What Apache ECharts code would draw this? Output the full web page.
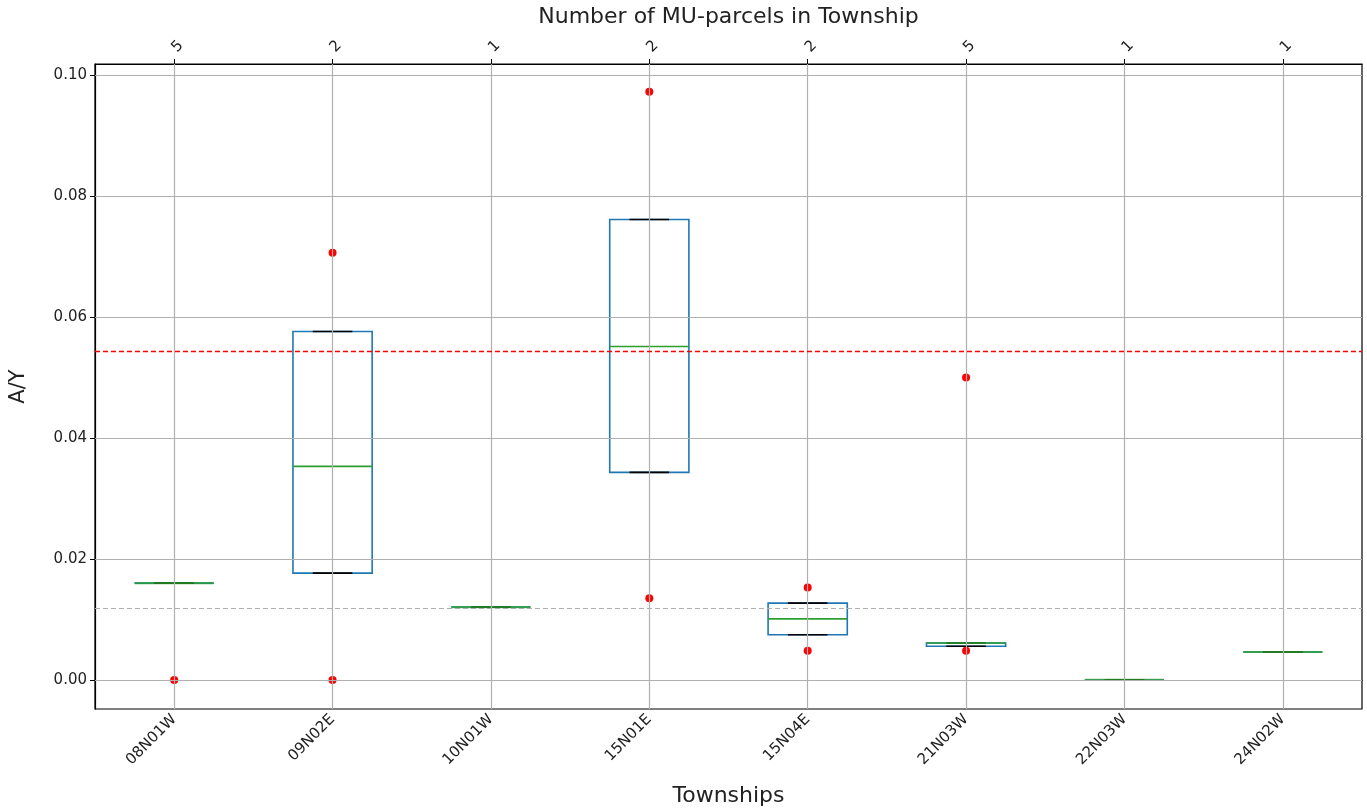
<!DOCTYPE html>
<html>
<head>
<meta charset="utf-8">
<script src="https://cdn.jsdelivr.net/npm/echarts@6/dist/echarts.min.js"></script>
<style>html,body{margin:0;padding:0;background:#fff}#c{width:1367px;height:812px}</style>
</head>
<body>
<div id="c"></div>
<script>
// ---- data ----
const categories = ['08N01W','09N02E','10N01W','15N01E','15N04E','21N03W','22N03W','24N02W'];
const parcelCounts = ['5','2','1','2','2','5','1','1'];
const whiskerLow  = [0.0160, 0.01766, 0.01205, 0.0343, 0.00748, 0.00556, 0.0, 0.00462];
const q1          = [0.0160, 0.01766, 0.01205, 0.0343, 0.00748, 0.00556, 0.0, 0.00462];
const median      = [0.0160, 0.0353,  0.01205, 0.0551, 0.0101,  0.0061,  0.0, 0.00462];
const q3          = [0.0160, 0.0576,  0.01205, 0.0761, 0.0127,  0.0061,  0.0, 0.00462];
const whiskerHigh = [0.0160, 0.0576,  0.01205, 0.0761, 0.0127,  0.0061,  0.0, 0.00462];
const outliers = [
  ['08N01W', 0.0], ['09N02E', 0.0706], ['09N02E', 0.0],
  ['15N01E', 0.0972], ['15N01E', 0.0135],
  ['15N04E', 0.0153], ['15N04E', 0.00484],
  ['21N03W', 0.0500], ['21N03W', 0.00484]
];
const yTicks = [0.00, 0.02, 0.04, 0.06, 0.08, 0.10];
const redRefLine = 0.0543;
const grayRefLine = 0.0119;
const yMin = -0.0048, yMax = 0.1018;

// ---- chart ----
const chart = echarts.init(document.getElementById('c'));
const FONT = 'DejaVu Sans';
const boxData = categories.map((c, i) => [i, whiskerLow[i], q1[i], median[i], q3[i], whiskerHigh[i]]);

function renderBox(params, api) {
  const i = api.value(0);
  const band = api.size([1, 0])[0];
  const w = band * 0.5;
  const cw = w * 0.5;
  const c = api.coord([i, api.value(3)]);
  const x = c[0];
  const yLo = api.coord([i, api.value(1)])[1];
  const yQ1 = api.coord([i, api.value(2)])[1];
  const yMed = c[1];
  const yQ3 = api.coord([i, api.value(4)])[1];
  const yHi = api.coord([i, api.value(5)])[1];
  const blue = '#1f77b4', green = '#2ca02c', black = '#000';
  const lw = 1.6;
  const collapsed = (yQ1 - yQ3) < 0.5;
  const children = [
    {type:'rect', shape:{x:x-w/2, y:yQ3, width:w, height:Math.max(yQ1-yQ3,0)}, style:{fill:'none', stroke:blue, lineWidth:lw}},
    {type:'line', shape:{x1:x, y1:yQ3, x2:x, y2:yHi}, style:{stroke:blue, lineWidth:lw}},
    {type:'line', shape:{x1:x, y1:yQ1, x2:x, y2:yLo}, style:{stroke:blue, lineWidth:lw}},
    {type:'line', shape:{x1:x-cw/2, y1:yHi, x2:x+cw/2, y2:yHi}, style:{stroke:black, lineWidth:lw}},
    {type:'line', shape:{x1:x-cw/2, y1:yLo, x2:x+cw/2, y2:yLo}, style:{stroke:black, lineWidth:lw}},
    {type:'line', shape:{x1:x-w/2, y1:yMed, x2:x+w/2, y2:yMed},
      style:{stroke:green, lineWidth: collapsed ? 2.2 : lw, opacity: collapsed ? 0.75 : 1}}
  ];
  return {type:'group', children};
}

const gridLines = [];
categories.forEach(c => gridLines.push({xAxis: c}));
yTicks.forEach(v => gridLines.push({yAxis: v}));

chart.setOption({
  animation: false,
  backgroundColor: '#fff',
  textStyle: {fontFamily: FONT},
  grid: {left: 95, right: 5, top: 64, bottom: 102, show: true, borderColor: '#000', borderWidth: 1.2, backgroundColor: 'transparent'},
  xAxis: [
    {
      type: 'category', data: categories, position: 'bottom',
      name: 'Townships', nameLocation: 'middle', nameGap: 76,
      nameTextStyle: {fontFamily: FONT, fontSize: 22, color: '#222'},
      axisLine: {show: true, lineStyle: {color: '#000', width: 1.2}},
      axisTick: {show: true, alignWithLabel: true, length: 5, lineStyle: {color: '#000'}},
      axisLabel: {rotate: 45, fontFamily: FONT, fontSize: 15, color: '#222', margin: 8},
      splitLine: {show: false}
    },
    {
      type: 'category', data: parcelCounts, position: 'top',
      name: 'Number of MU-parcels in Township', nameLocation: 'middle', nameGap: 36,
      nameTextStyle: {fontFamily: FONT, fontSize: 22, color: '#222'},
      axisLine: {show: true, lineStyle: {color: '#000', width: 1.2}},
      axisTick: {show: true, alignWithLabel: true, length: 5, lineStyle: {color: '#000'}},
      axisLabel: {rotate: -45, fontFamily: FONT, fontSize: 15, color: '#222', margin: 14},
      splitLine: {show: false}
    }
  ],
  yAxis: {
    type: 'value', min: yMin, max: yMax,
    name: 'A/Y', nameLocation: 'middle', nameGap: 66,
    nameTextStyle: {fontFamily: FONT, fontSize: 21, color: '#222'},
    axisLine: {show: true, lineStyle: {color: '#000', width: 1.2}},
    axisTick: {show: true, length: 5, lineStyle: {color: '#000'}, customValues: yTicks},
    axisLabel: {fontFamily: FONT, fontSize: 15, color: '#222', margin: 8, customValues: yTicks,
      formatter: v => v.toFixed(2)},
    splitLine: {show: false}
  },
  series: [
    {
      type: 'scatter', data: [], z: 1, silent: true,
      markLine: {
        silent: true, symbol: 'none', animation: false, label: {show: false}, precision: 6,
        lineStyle: {color: '#b0b0b0', type: 'solid', width: 1.2},
        data: gridLines
      }
    },
    {
      type: 'scatter', data: [], z: 2, silent: true,
      markLine: {
        silent: true, symbol: 'none', animation: false, label: {show: false}, precision: 6,
        data: [
          {yAxis: redRefLine, lineStyle: {color: 'rgb(255,0,0)', type: [5, 3], width: 1.4, opacity: 1}},
          {yAxis: grayRefLine, lineStyle: {color: '#b0b0b0', type: [5, 3], width: 1, opacity: 1}}
        ]
      }
    },
    {
      type: 'custom', renderItem: renderBox, data: boxData, z: 3,
      encode: {x: 0, y: [1, 2, 3, 4, 5]}
    },
    {
      type: 'scatter', data: outliers, z: 4, symbol: 'circle', symbolSize: 8,
      itemStyle: {color: '#ff0000', opacity: 1}
    }
  ]
});
</script>
</body>
</html>
